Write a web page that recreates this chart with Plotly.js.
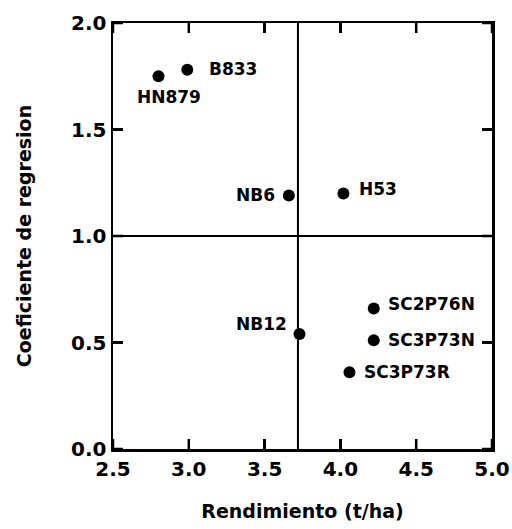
<!DOCTYPE html>
<html>
<head>
<meta charset="utf-8">
<script src="https://cdn.plot.ly/plotly-3.0.1.min.js"></script>
<style>html,body{margin:0;padding:0;background:#fff;}#chart{width:512px;height:529px;}</style>
</head>
<body>
<div id="chart"></div>
<script>
const cultivars = ["HN879", "B833", "NB6", "H53", "NB12", "SC2P76N", "SC3P73N", "SC3P73R"];
const rendimiento = [2.80, 2.99, 3.66, 4.02, 3.73, 4.22, 4.22, 4.06];
const coeficiente = [1.75, 1.78, 1.19, 1.20, 0.54, 0.66, 0.51, 0.36];
const meanRendimiento = [3.72];
const meanCoeficiente = [1.0];
const xTicks = [2.5, 3.0, 3.5, 4.0, 4.5, 5.0];
const yTicks = [0.0, 0.5, 1.0, 1.5, 2.0];
// label placement (pixels offset from the point)
const labelAnchor = ["center", "left", "right", "left", "right", "left", "left", "left"];
const labelDx = [11, 20, -12, 14, -10, 12, 12, 12];
const labelDy = [-21, 1, 1, 4, 10, 4, 0, 0];

const FONT = "DejaVu Sans";
const W = 512, H = 529, M = {l: 113, r: 20, t: 23, b: 80};
const TICKLEN = 10;
const tickFracY = TICKLEN / (H - M.t - M.b);
const tickFracX = TICKLEN / (W - M.l - M.r);
const trace = {
  x: rendimiento, y: coeficiente,
  mode: "markers", type: "scatter",
  marker: {color: "#000", size: 12},
  cliponaxis: false, hoverinfo: "skip"
};
const annotations = cultivars.map((c, i) => ({
  x: rendimiento[i], y: coeficiente[i], xref: "x", yref: "y", text: c, showarrow: false,
  xanchor: labelAnchor[i], yanchor: "middle", xshift: labelDx[i], yshift: labelDy[i],
  font: {family: FONT, size: 17, color: "#000", weight: "bold"}
}));
const shapes = [];
meanRendimiento.forEach(v => shapes.push({type: "line", xref: "x", yref: "paper", x0: v, x1: v, y0: 0, y1: 1, line: {color: "#000", width: 2}}));
meanCoeficiente.forEach(v => shapes.push({type: "line", xref: "paper", yref: "y", x0: 0, x1: 1, y0: v, y1: v, line: {color: "#000", width: 2}}));
// inside tick marks on all four sides
xTicks.forEach(v => {
  shapes.push({type: "line", xref: "x", yref: "paper", x0: v, x1: v, y0: 0, y1: tickFracY, line: {color: "#000", width: 2.5}});
  shapes.push({type: "line", xref: "x", yref: "paper", x0: v, x1: v, y0: 1, y1: 1 - tickFracY, line: {color: "#000", width: 2.5}});
});
yTicks.forEach(v => {
  shapes.push({type: "line", xref: "paper", yref: "y", y0: v, y1: v, x0: 0, x1: tickFracX, line: {color: "#000", width: 2.5}});
  shapes.push({type: "line", xref: "paper", yref: "y", y0: v, y1: v, x0: 1, x1: 1 - tickFracX, line: {color: "#000", width: 2.5}});
});

const axisCommon = {
  showgrid: false, zeroline: false, showline: true, linecolor: "#000", linewidth: 2.5,
  mirror: "ticks", ticks: "inside", ticklen: TICKLEN, tickwidth: 2.5, tickcolor: "#000",
  layer: "above traces",
  tickfont: {family: FONT, size: 20, color: "#000", weight: "bold"}
};
const layout = {
  width: W, height: H,
  margin: M,
  paper_bgcolor: "#fff", plot_bgcolor: "#fff",
  showlegend: false,
  xaxis: Object.assign({}, axisCommon, {
    range: [2.5, 5.0], tickmode: "array", tickvals: xTicks, ticktext: xTicks.map(v => v.toFixed(1)),
    title: {text: "Rendimiento (t/ha)", font: {family: FONT, size: 19, color: "#000", weight: "bold"}}
  }),
  yaxis: Object.assign({}, axisCommon, {
    range: [0, 2.0], tickmode: "array", tickvals: yTicks, ticktext: yTicks.map(v => v.toFixed(1)),
    automargin: true,
    title: {text: "Coeficiente de regresion", font: {family: FONT, size: 19, color: "#000", weight: "bold"}, standoff: 35}
  }),
  shapes: shapes,
  annotations: annotations
};
Plotly.newPlot("chart", [trace], layout, {staticPlot: true, displayModeBar: false});
</script>
</body>
</html>
